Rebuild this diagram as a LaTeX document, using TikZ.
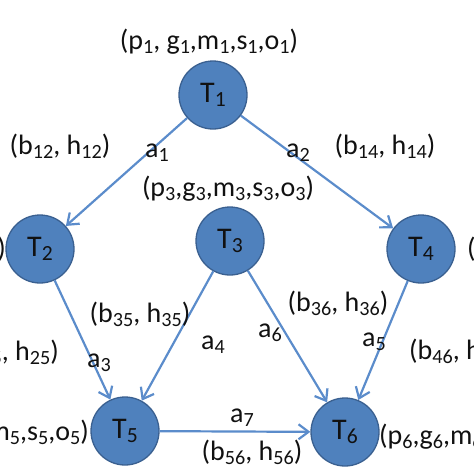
\documentclass[tikz,border=0pt]{standalone}
\usepackage{fontspec}
\setmainfont{Carlito}
\usepackage{xcolor}
\usepackage{tikz}
\usetikzlibrary{arrows.meta}
\definecolor{taskfill}{HTML}{4F81BD}
\definecolor{taskrim}{HTML}{3A6090}
\definecolor{linkblue}{HTML}{5B8CCB}
\definecolor{ink}{HTML}{111111}
\newcommand{\ix}[1]{\raisebox{-0.3ex}{\scalebox{0.72}{#1}}}
\tikzset{
  task/.style={circle, draw=taskrim, line width=1.3pt, fill=taskfill, minimum size=68pt, inner sep=0pt, text=ink, font=\fontsize{30}{32}\selectfont},
  tuple/.style={text=ink, font=\fontsize{28}{30}\selectfont, inner sep=1pt},
  link/.style={-{Straight Barb[length=10pt, width=15pt]}, line width=2.2pt, draw=linkblue},
}

\begin{document}
\begin{tikzpicture}[x=1pt, y=-1pt]
  % Task graph: six tasks, seven weighted links, picture cut at the frame.
  \useasboundingbox (0,0) rectangle (474,474);
  \clip (0,0) rectangle (474,474);
  \node[task] (t1) at (213,95) {T\ix{1}};
  \node[task] (t2) at (40,249) {T\ix{2}};
  \node[task] (t3) at (230,241) {T\ix{3}};
  \node[task] (t4) at (421,249) {T\ix{4}};
  \node[task] (t5) at (125,431) {T\ix{5}};
  \node[task] (t6) at (345,432) {T\ix{6}};
  % task tuples
  \node[tuple] (p1) at (209,42) {(p\ix{1}, g\ix{1},m\ix{1},s\ix{1},o\ix{1})};
  \node[tuple, anchor=east] (p2) at (7,250) {(p\ix{2},g\ix{2},m\ix{2},s\ix{2},o\ix{2})};
  \node[tuple] (p3) at (228,189) {(p\ix{3},g\ix{3},m\ix{3},s\ix{3},o\ix{3})};
  \node[tuple, anchor=west] (p4) at (466,250) {(p\ix{4},g\ix{4},m\ix{4},s\ix{4},o\ix{4})};
  \node[tuple, anchor=east] (p5) at (90,433) {(p\ix{5},g\ix{5},m\ix{5},s\ix{5},o\ix{5})};
  \node[tuple, anchor=west] (p6) at (378,437) {(p\ix{6},g\ix{6},m\ix{6},s\ix{6},o\ix{6})};
  % links
  \draw[link] (t1) -- (t2);
  \draw[link] (t1) -- (t4);
  \draw[link] (t2) -- (t5);
  \draw[link] (t3) -- (t5);
  \draw[link] (t3) -- (t6);
  \draw[link] (t4) -- (t6);
  \draw[link] (t5) -- (t6);
  % link names and weights
  \node[tuple] (a1) at (157,153) {a\ix{1}};
  \node[tuple] (a2) at (298,153) {a\ix{2}};
  \node[tuple] (a3) at (99,363) {a\ix{3}};
  \node[tuple] (a4) at (213,345) {a\ix{4}};
  \node[tuple] (a5) at (374,342) {a\ix{5}};
  \node[tuple] (a6) at (270,333) {a\ix{6}};
  \node[tuple] (a7) at (242,418) {a\ix{7}};
  \node[tuple] (w12) at (60,146) {(b\ix{12}, h\ix{12})};
  \node[tuple] (w14) at (385,146) {(b\ix{14}, h\ix{14})};
  \node[tuple, anchor=east] (w25) at (60,352) {(b\ix{25}, h\ix{25})};
  \node[tuple] (w35) at (140,314) {(b\ix{35}, h\ix{35})};
  \node[tuple] (w36) at (338,303) {(b\ix{36}, h\ix{36})};
  \node[tuple, anchor=west] (w46) at (408,351) {(b\ix{46}, h\ix{46})};
  \node[tuple] (w56) at (252,452) {(b\ix{56}, h\ix{56})};
\end{tikzpicture}
\end{document}
